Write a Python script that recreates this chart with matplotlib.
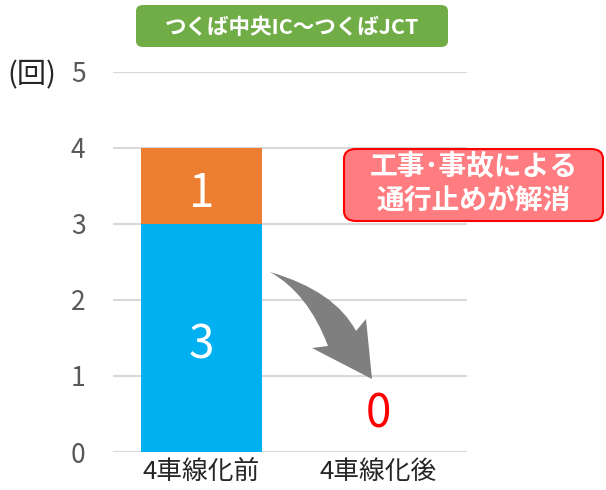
import matplotlib.pyplot as plt
from matplotlib.patches import FancyBboxPatch, PathPatch
from matplotlib.path import Path

plt.rcParams['font.family'] = ['Noto Sans CJK JP', 'DejaVu Sans']

categories = ['4車線化前', '4車線化後']
base_vals = [3, 0]
top_vals = [1, 0]
yticks = [0, 1, 2, 3, 4, 5]

fig = plt.figure(figsize=(6.06, 4.9), dpi=100)
ax = fig.add_axes([113 / 606, 1 - 452 / 490, 354 / 606, 380 / 490])

x = range(len(categories))
ax.bar(x, base_vals, width=0.68, color='#00B0F0', zorder=2)
ax.bar(x, top_vals, bottom=base_vals, width=0.68, color='#ED7D31', zorder=2)

# value labels
ax.text(0, base_vals[0] / 2 - 0.1, str(base_vals[0]), color='white', fontsize=33,
        ha='center', va='center', zorder=3)
ax.text(0, base_vals[0] + top_vals[0] / 2 - 0.1, str(top_vals[0]), color='white',
        fontsize=33, ha='center', va='center', zorder=3)
ax.text(1, 0.5, str(base_vals[1] + top_vals[1]), color='#FF0000', fontsize=33,
        ha='center', va='center', zorder=3)

ax.set_xlim(-0.5, 1.5)
ax.set_ylim(0, 5)
ax.set_yticks(yticks)
ax.set_xticks(list(x))
ax.set_xticklabels(categories, fontsize=18.5, color='#262626')
ax.tick_params(axis='y', length=0, pad=25, labelsize=19, labelcolor='#595959')
ax.tick_params(axis='x', length=0, pad=5)
for lbl in ax.get_yticklabels():
    lbl.set_horizontalalignment('center')
ax.grid(axis='y', color='#D9D9D9', lw=1.5, zorder=0)
for s in ax.spines.values():
    s.set_visible(False)

fig.text(32 / 606, 1 - 75 / 490, '(回)', fontsize=21, ha='center', va='center',
         color='#262626')

# title box
fig.patches.append(FancyBboxPatch((136 / 606, 1 - 47 / 490), 312 / 606, 42 / 490,
                                  boxstyle='round,pad=0,rounding_size=0.012',
                                  transform=fig.transFigure, fc='#70AD47', ec='none'))
fig.text(292 / 606, 1 - 27 / 490, 'つくば中央IC～つくばJCT', fontsize=15.5,
         fontweight='bold', color='white', ha='center', va='center')

# annotation box
fig.patches.append(FancyBboxPatch((344 / 606, 1 - 221 / 490), 259 / 606, 72 / 490,
                                  boxstyle='round,pad=0,rounding_size=0.02',
                                  transform=fig.transFigure, fc='#FF7C80',
                                  ec='#FF0000', lw=1.5))
fig.text(474 / 606, 1 - 167 / 490, '工事･事故による', fontsize=20,
         fontweight='bold', color='white', ha='center', va='center')
fig.text(474 / 606, 1 - 201 / 490, '通行止めが解消', fontsize=20,
         fontweight='bold', color='white', ha='center', va='center')

# curved arrow
pts = [(270, 272), (335, 291), (356, 331), (366, 319), (372, 379),
       (312, 348), (328, 346), (308, 293), (270, 272)]
codes = [Path.MOVETO, Path.CURVE3, Path.CURVE3, Path.LINETO, Path.LINETO,
         Path.LINETO, Path.LINETO, Path.CURVE3, Path.CURVE3]
verts = [(px / 606, 1 - py / 490) for px, py in pts]
fig.patches.append(PathPatch(Path(verts, codes), transform=fig.transFigure,
                             fc='#7F7F7F', ec='none'))

fig.savefig('out.png', dpi=100)
